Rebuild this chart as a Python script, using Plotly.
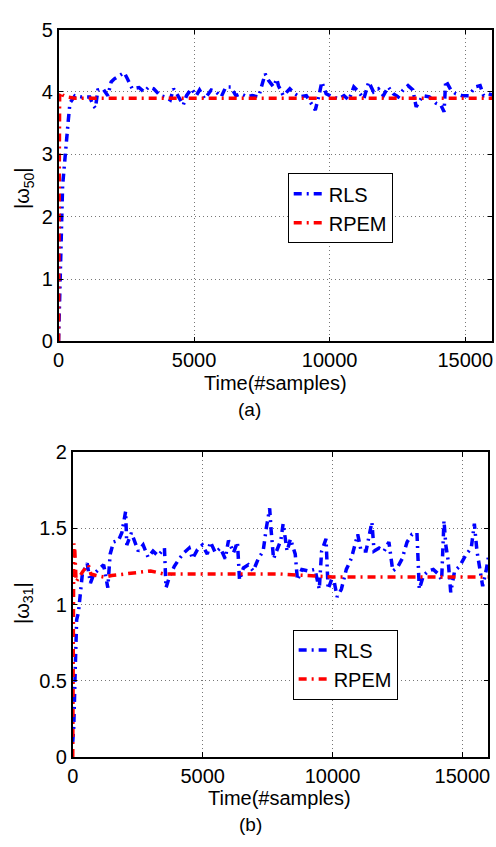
import plotly.graph_objects as go

# ---------------- data ----------------
# panel (a): |w50|
rls_a_t = [0, 50, 100, 150, 230, 300, 363, 420, 606, 850, 1150, 1270, 1360, 1450, 1640, 1820, 1940,
           2060, 2240, 2420, 2540, 2720, 2970, 3150, 3330, 3510, 3750, 3935, 4120, 4240, 4360, 4600,
           4720, 4900, 5080, 5200, 5390, 5630, 5810, 6000, 6170, 6350, 6540, 6720, 6960, 7140, 7380,
           7500, 7620, 7750, 7930, 8050, 8110, 8290, 8530, 8715, 8900, 9140, 9380, 9470, 9620, 9710,
           9870, 10110, 10350, 10530, 10710, 10890, 11070, 11260, 11440, 11620, 11800, 11980, 12160,
           12345, 12530, 12710, 12890, 13070, 13190, 13435, 13675, 13920, 14100, 14220, 14280, 14470,
           14650, 14890, 15130, 15370, 15550, 15680, 15860, 16000]
rls_a_v = [0.0, 0.8, 1.8, 2.5, 2.9, 3.35, 3.56, 3.82, 3.94, 3.92, 3.92, 3.79, 3.74, 4.03, 4.05, 3.94, 4.16,
           4.21, 4.26, 4.31, 4.21, 4.05, 4.07, 4.0, 4.08, 4.05, 3.94, 3.92, 3.87, 4.05, 3.97, 3.79,
           3.94, 4.05, 3.94, 4.03, 3.89, 4.03, 4.0, 3.92, 4.08, 4.08, 3.94, 3.97, 3.92, 3.94, 3.92,
           4.1, 4.29, 4.18, 4.08, 4.21, 4.1, 3.94, 4.05, 3.97, 3.92, 3.94, 3.79, 3.71, 3.97, 4.16,
           3.97, 3.92, 3.89, 3.94, 3.87, 4.08, 4.0, 3.89, 4.16, 4.0, 4.05, 3.94, 4.08,
           3.97, 3.92, 4.03, 4.1, 4.03, 3.76, 3.94, 3.92, 3.82, 3.79, 3.68, 4.18, 4.03,
           3.97, 3.94, 3.94, 4.08, 4.1, 3.94, 3.97, 3.95]
rpem_a_t = [0, 10, 20, 30, 40, 80, 150, 300, 600, 1000, 16000]
rpem_a_v = [0.0, 1.2, 2.5, 3.4, 3.95, 4.0, 3.95, 3.92, 3.9, 3.9, 3.9]

# panel (b): |w31|
rls_b_t = [0, 40, 100, 150, 220, 300, 370, 555, 680, 810, 1000, 1190, 1350, 1440, 1570, 1760, 1890, 2035,
           2080, 2260, 2390, 2520, 2710, 2900, 3090, 3280, 3530, 3555, 3590, 3720, 3910, 4100, 4290,
           4480, 4610, 4800, 4990, 5180, 5300, 5490, 5680, 5870, 5995, 6190, 6340, 6420, 6570, 6760,
           6950, 7140, 7330, 7450, 7580, 7640, 7730, 7960, 8000, 8100, 8250, 8380, 8565, 8650, 8820,
           9070, 9325, 9490, 9580, 9750, 9830, 10020, 10175, 10340, 10530, 10720, 10880, 10970, 11100,
           11290, 11515, 11600, 11795, 11985, 12170, 12320, 12490, 12680, 12870, 13060, 13250, 13290,
           13340, 13500, 13690, 13880, 14070, 14200, 14290, 14360, 14450, 14550, 14700, 14890, 15150,
           15340, 15460, 15560, 15720, 15780, 15910, 16000]
rls_b_v = [0.1, 0.2, 0.6, 0.9, 0.95, 1.09, 1.2, 1.27, 1.14, 1.2, 1.23, 1.26, 1.11, 1.33, 1.41, 1.42, 1.47, 1.61,
           1.39, 1.47, 1.41, 1.35, 1.39, 1.31, 1.35, 1.32, 1.37, 1.28, 1.11, 1.18, 1.25, 1.3, 1.34,
           1.37, 1.3, 1.36, 1.39, 1.33, 1.41, 1.34, 1.37, 1.3, 1.42, 1.34, 1.41, 1.16, 1.24, 1.26,
           1.22, 1.3, 1.35, 1.5, 1.63, 1.48, 1.3, 1.4, 1.41, 1.53, 1.35, 1.43, 1.33, 1.16, 1.23,
           1.22, 1.23, 1.1, 1.35, 1.43, 1.1, 1.19, 1.05, 1.1, 1.23, 1.3, 1.39, 1.46, 1.35,
           1.35, 1.54, 1.35, 1.37, 1.35, 1.41, 1.22, 1.24, 1.3, 1.41, 1.46, 1.47, 1.3,
           1.1, 1.19, 1.22, 1.23, 1.2, 1.16, 1.55, 1.39, 1.29, 1.08, 1.22, 1.25, 1.33,
           1.37, 1.53, 1.35, 1.19, 1.12, 1.22, 1.31]
rpem_b_t = [0, 10, 20, 40, 80, 130, 250, 400, 600, 700, 900, 1200, 1500, 2000, 2500, 3000, 3500, 4000,
            6000, 8000, 9000, 10000, 16000]
rpem_b_v = [0.0, 0.5, 0.9, 1.4, 1.35, 1.15, 1.18, 1.22, 1.26, 1.2, 1.19, 1.18, 1.19, 1.2, 1.21, 1.22, 1.2,
            1.2, 1.2, 1.2, 1.19, 1.18, 1.18]

x_ticks = [0, 5000, 10000, 15000]
x_ticklabels = ["0", "5000", "10000", "15000"]
y_ticks_a = [0, 1, 2, 3, 4, 5]
y_ticks_b = [0, 0.5, 1, 1.5, 2]
y_ticklabels_b = ["0", "0.5", "1", "1.5", "2"]

# ---------------- figure ----------------
FONT = "Liberation Sans, Arial, sans-serif"
FS = 20
DASH = "8px,5px,2px,5px"
fig = go.Figure()

fig.add_trace(go.Scatter(x=rls_a_t, y=rls_a_v, mode="lines", name="RLS",
                         line=dict(color="#0000ff", width=3.5, dash=DASH),
                         xaxis="x", yaxis="y", legend="legend"))
fig.add_trace(go.Scatter(x=rpem_a_t, y=rpem_a_v, mode="lines", name="RPEM",
                         line=dict(color="#ff0000", width=3.5, dash=DASH),
                         xaxis="x", yaxis="y", legend="legend"))
fig.add_trace(go.Scatter(x=rls_b_t, y=rls_b_v, mode="lines", name="RLS",
                         line=dict(color="#0000ff", width=3.5, dash=DASH),
                         xaxis="x2", yaxis="y2", legend="legend2"))
fig.add_trace(go.Scatter(x=rpem_b_t, y=rpem_b_v, mode="lines", name="RPEM",
                         line=dict(color="#ff0000", width=3.5, dash=DASH),
                         xaxis="x2", yaxis="y2", legend="legend2"))

W, H = 496, 847
axis_common = dict(showline=True, linecolor="black", linewidth=1.5, mirror="ticks",
                   ticks="inside", ticklen=5, tickcolor="black",
                   showgrid=True, gridcolor="#777777", gridwidth=1, griddash="1px,3px",
                   zeroline=False, tickfont=dict(family=FONT, size=FS, color="black"))

fig.update_layout(
    width=W, height=H,
    margin=dict(l=0, r=0, t=0, b=0),
    paper_bgcolor="white", plot_bgcolor="white",
    font=dict(family=FONT, size=FS, color="black"),
    xaxis=dict(domain=[53.3 / W, 493.3 / W], range=[0, 16000], tickvals=x_ticks,
               ticktext=x_ticklabels, anchor="y", **axis_common),
    yaxis=dict(domain=[1 - 339.3 / H, 1 - 19 / H], range=[0, 5], tickvals=y_ticks_a,
               anchor="x", **axis_common),
    xaxis2=dict(domain=[67.7 / W, 489.3 / W], range=[0, 16000], tickvals=x_ticks,
                ticktext=x_ticklabels, anchor="y2", **axis_common),
    yaxis2=dict(domain=[1 - 766 / H, 1 - 452.7 / H], range=[0, 2], tickvals=y_ticks_b,
                ticktext=y_ticklabels_b, anchor="x2", **axis_common),
    legend=dict(x=339 / W, y=1 - 202.5 / H, xanchor="center", yanchor="middle",
                bgcolor="white", bordercolor="black", borderwidth=1, tracegroupgap=0,
                traceorder="normal",
                font=dict(family=FONT, size=FS, color="black")),
    legend2=dict(x=344 / W, y=1 - 671 / H, xanchor="center", yanchor="middle",
                 bgcolor="white", bordercolor="black", borderwidth=1, tracegroupgap=0,
                 traceorder="normal",
                 font=dict(family=FONT, size=FS, color="black")),
    showlegend=True,
)

ann = [
    dict(text="Time(#samples)", x=273 / W, y=1 - 382 / H, size=FS),
    dict(text="(a)", x=247 / W, y=1 - 409 / H, size=19),
    dict(text="Time(#samples)", x=277 / W, y=1 - 808 / H, size=FS),
    dict(text="(b)", x=248 / W, y=1 - 835 / H, size=19),
]
for a in ann:
    fig.add_annotation(text=a["text"], x=a["x"], y=a["y"], xref="paper", yref="paper",
                       xanchor="center", yanchor="middle", showarrow=False,
                       font=dict(family=FONT, size=a["size"], color="black"))

fig.add_annotation(text="|ω<sub>50</sub>|", x=18 / W, y=1 - 182 / H, xref="paper", yref="paper",
                   xanchor="center", yanchor="middle", showarrow=False, textangle=-90,
                   font=dict(family=FONT, size=FS, color="black"))
fig.add_annotation(text="|ω<sub>31</sub>|", x=17 / W, y=1 - 608 / H, xref="paper", yref="paper",
                   xanchor="center", yanchor="middle", showarrow=False, textangle=-90,
                   font=dict(family=FONT, size=FS, color="black"))

fig.write_html("out.html")
